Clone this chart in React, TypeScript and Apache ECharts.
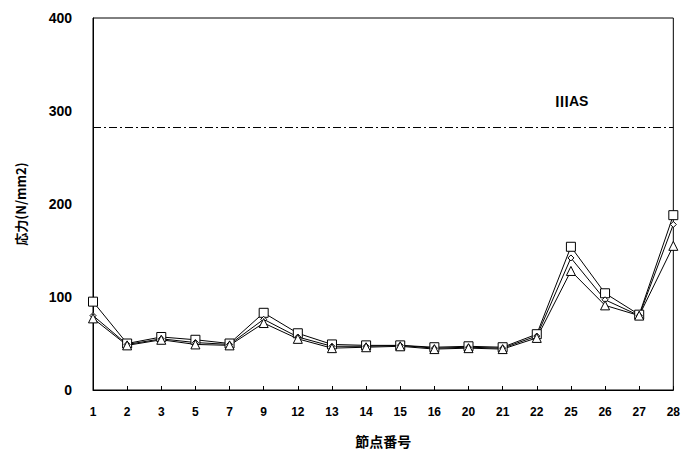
import React, { useEffect, useRef } from "react";
import * as echarts from "echarts";

const categories = ["1", "2", "3", "5", "7", "9", "12", "13", "14", "15", "16", "20", "21", "22", "25", "26", "27", "28"];
const seriesSquare = [95, 50, 57, 54, 50, 83, 61, 49, 48, 48, 46, 47, 46, 60, 154, 104, 81, 188];
const seriesMiddle = [80, 49, 55, 51, 49, 76, 57, 47, 47, 48, 45, 46, 45, 58, 142, 97, 80, 178];
const seriesTriangle = [77, 48, 54, 49, 48, 72, 55, 45, 46, 47, 44, 45, 44, 56, 128, 91, 80, 155];
const allowable = 282;
const allowableNumeral = "Ⅲ";
const allowableSuffix = "AS";
const yTicks = { min: 0, max: 400, interval: 20, labelStep: 100 };

export default function App() {
  const ref = useRef<HTMLDivElement>(null);
  useEffect(() => {
    if (!ref.current) return;
    const chart = echarts.init(ref.current, undefined, { renderer: "svg" });
    const font = "'Liberation Sans', Arial, sans-serif";
    const lineCommon = {
      type: "line",
      showSymbol: true,
      lineStyle: { color: "#000", width: 1 },
      itemStyle: { color: "#fff", borderColor: "#000", borderWidth: 1 },
      z: 3,
    };
    chart.setOption({
      animation: false,
      backgroundColor: "#fff",
      grid: { left: 93, right: 7, top: 18, bottom: 66, show: true, borderColor: "#000", borderWidth: 1 },
      xAxis: {
        type: "category",
        data: categories,
        boundaryGap: false,
        name: "節点番号",
        nameLocation: "middle",
        nameGap: 44,
        nameTextStyle: { fontFamily: "'Noto Sans CJK JP'", fontWeight: "bold", fontSize: 14, color: "#000" },
        axisLine: { lineStyle: { color: "#000", width: 1 } },
        axisTick: { inside: true, length: 4, lineStyle: { color: "#000" } },
        axisLabel: {
          margin: 16,
          color: "#000",
          fontWeight: "bold",
          fontSize: 12,
          fontFamily: "'Liberation Sans Narrow', 'Liberation Sans', sans-serif",
          interval: 0,
        },
        splitLine: { show: false },
      },
      yAxis: {
        type: "value",
        min: yTicks.min,
        max: yTicks.max,
        interval: yTicks.interval,
        name: "応力(N/mm2)",
        nameLocation: "middle",
        nameGap: 66,
        nameTextStyle: { fontFamily: "'Noto Sans CJK JP'", fontWeight: "bold", fontSize: 13, color: "#000" },
        axisLine: { show: true, lineStyle: { color: "#000", width: 1 } },
        axisTick: { inside: true, length: 4, lineStyle: { color: "#000" } },
        axisLabel: {
          margin: 21,
          color: "#000",
          fontWeight: "bold",
          fontSize: 14,
          fontFamily: font,
          formatter: (v: number) => (v % yTicks.labelStep === 0 ? String(v) : ""),
        },
        splitLine: { show: false },
      },
      series: [
        {
          ...lineCommon,
          name: "A",
          data: seriesSquare,
          symbol: "rect",
          symbolSize: 9,
          markLine: {
            silent: true,
            symbol: "none",
            lineStyle: { color: "#000", width: 1, type: [8, 3, 2, 3] },
            label: { show: false },
            data: [{ yAxis: allowable }],
          },
        },
        { ...lineCommon, name: "B", data: seriesMiddle, symbol: "diamond", symbolSize: 6 },
        { ...lineCommon, name: "C", data: seriesTriangle, symbol: "triangle", symbolSize: 9 },
      ],
      graphic: [
        {
          type: "text",
          left: 555,
          top: 94,
          style: {
            text: `{a|${allowableNumeral}}{b|${allowableSuffix}}`,
            fill: "#000",
            rich: {
              a: { fontFamily: "'Noto Sans CJK JP'", fontWeight: "bold", fontSize: 14, fill: "#000", verticalAlign: "middle", lineHeight: 18 },
              b: { fontFamily: font, fontWeight: "bold", fontSize: 14, fill: "#000", verticalAlign: "middle", lineHeight: 18 },
            },
          },
        },
      ],
    });
    return () => chart.dispose();
  }, []);
  return <div ref={ref} style={{ position: "fixed", left: 0, top: 0, width: 683, height: 456 }} />;
}
